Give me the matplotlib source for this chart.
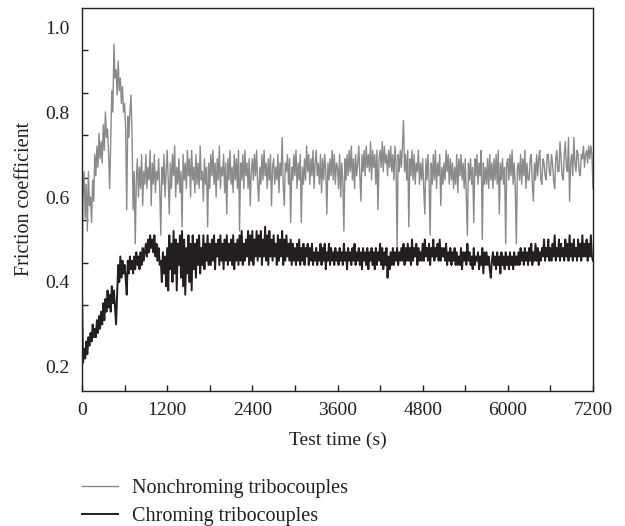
import numpy as np
import matplotlib
matplotlib.use("Agg")
import matplotlib.pyplot as plt

# Friction coefficient, one value every 15 s (0 ... 7200 s)
step = 15
nonchroming = [
    0.42, 0.60, 0.66, 0.55, 0.63, 0.52, 0.66, 0.58, 0.60, 0.54, 0.64, 0.59, 0.70, 0.65, 0.72, 0.67, 0.75, 0.69, 0.73, 0.68,
    0.77, 0.71, 0.80, 0.74, 0.76, 0.70, 0.62, 0.74, 0.85, 0.80, 0.96, 0.88, 0.90, 0.84, 0.92, 0.85, 0.88, 0.82, 0.86, 0.80,
    0.82, 0.76, 0.57, 0.79, 0.74, 0.80, 0.84, 0.75, 0.57, 0.66, 0.49, 0.64, 0.69, 0.60, 0.67, 0.62, 0.70, 0.58, 0.66, 0.63,
    0.70, 0.62, 0.67, 0.64, 0.71, 0.58, 0.68, 0.63, 0.70, 0.61, 0.66, 0.64, 0.69, 0.62, 0.51, 0.67, 0.63, 0.70, 0.60, 0.66,
    0.71, 0.64, 0.56, 0.68, 0.62, 0.70, 0.65, 0.72, 0.60, 0.67, 0.63, 0.69, 0.61, 0.66, 0.53, 0.70, 0.64, 0.68, 0.62, 0.71,
    0.65, 0.69, 0.60, 0.71, 0.64, 0.67, 0.61, 0.70, 0.63, 0.68, 0.62, 0.72, 0.64, 0.66, 0.59, 0.69, 0.63, 0.67, 0.53, 0.68,
    0.62, 0.70, 0.65, 0.71, 0.63, 0.68, 0.60, 0.69, 0.64, 0.72, 0.62, 0.67, 0.65, 0.70, 0.61, 0.68, 0.56, 0.69, 0.64, 0.71,
    0.63, 0.67, 0.61, 0.70, 0.64, 0.69, 0.62, 0.71, 0.52, 0.68, 0.64, 0.70, 0.62, 0.71, 0.65, 0.68, 0.62, 0.69, 0.58, 0.66,
    0.69, 0.64, 0.70, 0.65, 0.71, 0.63, 0.59, 0.67, 0.63, 0.70, 0.64, 0.71, 0.65, 0.68, 0.62, 0.69, 0.64, 0.70, 0.58, 0.67,
    0.69, 0.63, 0.67, 0.64, 0.70, 0.61, 0.68, 0.65, 0.74, 0.63, 0.58, 0.68, 0.66, 0.70, 0.63, 0.69, 0.54, 0.67, 0.64, 0.70,
    0.65, 0.71, 0.62, 0.68, 0.64, 0.70, 0.54, 0.67, 0.63, 0.69, 0.64, 0.72, 0.66, 0.70, 0.63, 0.69, 0.65, 0.71, 0.62, 0.68,
    0.71, 0.65, 0.68, 0.63, 0.70, 0.61, 0.69, 0.64, 0.70, 0.66, 0.56, 0.68, 0.64, 0.69, 0.65, 0.71, 0.64, 0.70, 0.63, 0.68,
    0.67, 0.62, 0.70, 0.60, 0.68, 0.64, 0.52, 0.69, 0.64, 0.70, 0.65, 0.71, 0.66, 0.72, 0.64, 0.69, 0.62, 0.70, 0.65, 0.68,
    0.72, 0.65, 0.59, 0.70, 0.66, 0.71, 0.65, 0.72, 0.67, 0.70, 0.66, 0.73, 0.64, 0.71, 0.67, 0.70, 0.63, 0.71, 0.57, 0.69,
    0.71, 0.67, 0.73, 0.66, 0.72, 0.68, 0.70, 0.65, 0.71, 0.67, 0.72, 0.66, 0.70, 0.64, 0.72, 0.68, 0.48, 0.70, 0.66, 0.71,
    0.67, 0.72, 0.78, 0.66, 0.70, 0.64, 0.71, 0.53, 0.69, 0.65, 0.71, 0.64, 0.70, 0.63, 0.68, 0.66, 0.71, 0.63, 0.68, 0.64,
    0.69, 0.62, 0.56, 0.69, 0.64, 0.70, 0.64, 0.51, 0.68, 0.63, 0.70, 0.64, 0.71, 0.62, 0.68, 0.65, 0.70, 0.58, 0.67, 0.63,
    0.68, 0.64, 0.71, 0.66, 0.70, 0.63, 0.69, 0.64, 0.68, 0.62, 0.67, 0.63, 0.70, 0.61, 0.69, 0.65, 0.70, 0.64, 0.68, 0.62,
    0.69, 0.60, 0.51, 0.68, 0.64, 0.69, 0.63, 0.67, 0.54, 0.69, 0.65, 0.70, 0.63, 0.68, 0.65, 0.71, 0.50, 0.68, 0.63, 0.67,
    0.63, 0.69, 0.62, 0.70, 0.64, 0.68, 0.62, 0.69, 0.64, 0.70, 0.63, 0.71, 0.56, 0.68, 0.64, 0.69, 0.63, 0.67, 0.49, 0.68,
    0.69, 0.64, 0.70, 0.65, 0.71, 0.63, 0.68, 0.62, 0.49, 0.67, 0.68, 0.64, 0.70, 0.63, 0.69, 0.65, 0.71, 0.62, 0.68, 0.64,
    0.64, 0.69, 0.70, 0.63, 0.59, 0.68, 0.64, 0.70, 0.65, 0.69, 0.71, 0.64, 0.63, 0.69, 0.68, 0.65, 0.64, 0.70, 0.70, 0.66,
    0.65, 0.70, 0.68, 0.64, 0.62, 0.69, 0.71, 0.66, 0.66, 0.73, 0.69, 0.65, 0.64, 0.70, 0.73, 0.67, 0.66, 0.74, 0.59, 0.68,
    0.70, 0.65, 0.74, 0.68, 0.66, 0.71, 0.70, 0.66, 0.65, 0.70, 0.69, 0.72, 0.67, 0.70, 0.71, 0.68, 0.72, 0.69, 0.72, 0.70,
    0.62,
]
chroming = [
    0.37, 0.21, 0.24, 0.22, 0.26, 0.23, 0.27, 0.25, 0.28, 0.26, 0.30, 0.27, 0.29, 0.27, 0.31, 0.28, 0.32, 0.29, 0.33, 0.30,
    0.35, 0.31, 0.36, 0.33, 0.38, 0.34, 0.37, 0.33, 0.39, 0.35, 0.38, 0.34, 0.30, 0.37, 0.44, 0.40, 0.46, 0.41, 0.45, 0.42,
    0.44, 0.41, 0.37, 0.45, 0.42, 0.46, 0.43, 0.45, 0.42, 0.46, 0.43, 0.47, 0.44, 0.46, 0.43, 0.47, 0.44, 0.48, 0.45, 0.47,
    0.49, 0.46, 0.50, 0.47, 0.51, 0.48, 0.50, 0.47, 0.51, 0.46, 0.49, 0.45, 0.48, 0.44, 0.45, 0.40, 0.47, 0.42, 0.46, 0.39,
    0.48, 0.38, 0.51, 0.43, 0.49, 0.40, 0.52, 0.42, 0.50, 0.38, 0.49, 0.44, 0.51, 0.41, 0.52, 0.39, 0.50, 0.37, 0.48, 0.42,
    0.51, 0.40, 0.49, 0.38, 0.51, 0.43, 0.49, 0.41, 0.50, 0.44, 0.51, 0.42, 0.48, 0.44, 0.51, 0.43, 0.49, 0.45, 0.51, 0.44,
    0.49, 0.44, 0.50, 0.45, 0.51, 0.43, 0.49, 0.46, 0.50, 0.44, 0.51, 0.45, 0.49, 0.43, 0.50, 0.45, 0.51, 0.44, 0.49, 0.45,
    0.50, 0.44, 0.51, 0.43, 0.49, 0.45, 0.50, 0.44, 0.51, 0.45, 0.52, 0.44, 0.49, 0.45, 0.50, 0.46, 0.52, 0.44, 0.51, 0.45,
    0.52, 0.44, 0.50, 0.46, 0.52, 0.45, 0.51, 0.46, 0.52, 0.44, 0.50, 0.46, 0.53, 0.45, 0.51, 0.44, 0.52, 0.46, 0.50, 0.45,
    0.51, 0.46, 0.49, 0.44, 0.51, 0.45, 0.50, 0.46, 0.52, 0.44, 0.50, 0.45, 0.51, 0.46, 0.49, 0.45, 0.50, 0.44, 0.49, 0.45,
    0.48, 0.44, 0.49, 0.45, 0.50, 0.44, 0.48, 0.45, 0.49, 0.44, 0.48, 0.46, 0.49, 0.44, 0.48, 0.45, 0.49, 0.44, 0.47, 0.45,
    0.48, 0.44, 0.47, 0.45, 0.49, 0.44, 0.48, 0.45, 0.49, 0.43, 0.47, 0.45, 0.49, 0.44, 0.48, 0.45, 0.47, 0.44, 0.48, 0.45,
    0.47, 0.44, 0.48, 0.45, 0.47, 0.44, 0.49, 0.45, 0.47, 0.43, 0.48, 0.45, 0.47, 0.44, 0.48, 0.45, 0.49, 0.44, 0.47, 0.45,
    0.48, 0.44, 0.47, 0.43, 0.48, 0.45, 0.47, 0.44, 0.48, 0.43, 0.47, 0.45, 0.48, 0.44, 0.47, 0.43, 0.48, 0.44, 0.47, 0.45,
    0.49, 0.44, 0.48, 0.43, 0.47, 0.44, 0.48, 0.41, 0.46, 0.43, 0.47, 0.44, 0.48, 0.44, 0.47, 0.45, 0.48, 0.44, 0.47, 0.45,
    0.48, 0.45, 0.49, 0.44, 0.48, 0.45, 0.49, 0.45, 0.48, 0.44, 0.50, 0.45, 0.48, 0.46, 0.49, 0.44, 0.48, 0.45, 0.47, 0.45,
    0.49, 0.45, 0.50, 0.46, 0.48, 0.45, 0.49, 0.44, 0.48, 0.46, 0.50, 0.45, 0.48, 0.46, 0.49, 0.45, 0.50, 0.45, 0.48, 0.46,
    0.48, 0.45, 0.49, 0.44, 0.47, 0.45, 0.48, 0.44, 0.47, 0.45, 0.48, 0.44, 0.47, 0.44, 0.46, 0.44, 0.48, 0.43, 0.47, 0.45,
    0.47, 0.44, 0.49, 0.45, 0.47, 0.44, 0.46, 0.43, 0.48, 0.44, 0.46, 0.45, 0.47, 0.43, 0.46, 0.44, 0.48, 0.42, 0.47, 0.44,
    0.47, 0.44, 0.46, 0.43, 0.41, 0.45, 0.47, 0.44, 0.46, 0.43, 0.47, 0.44, 0.46, 0.42, 0.47, 0.44, 0.46, 0.43, 0.47, 0.44,
    0.46, 0.43, 0.47, 0.44, 0.46, 0.43, 0.47, 0.44, 0.46, 0.44, 0.47, 0.44, 0.48, 0.45, 0.47, 0.44, 0.48, 0.45, 0.47, 0.44,
    0.48, 0.45, 0.49, 0.44, 0.47, 0.45, 0.49, 0.45, 0.48, 0.44, 0.47, 0.45, 0.48, 0.46, 0.50, 0.45, 0.48, 0.46, 0.50, 0.45,
    0.48, 0.45, 0.49, 0.46, 0.51, 0.45, 0.48, 0.46, 0.50, 0.45, 0.49, 0.46, 0.48, 0.45, 0.50, 0.46, 0.49, 0.45, 0.51, 0.46,
    0.49, 0.45, 0.50, 0.46, 0.48, 0.45, 0.50, 0.46, 0.49, 0.45, 0.51, 0.46, 0.49, 0.46, 0.50, 0.45, 0.49, 0.46, 0.51, 0.46,
    0.45,
]
x_ticks = [0, 1200, 2400, 3600, 4800, 6000, 7200]
y_ticks = [0.2, 0.4, 0.6, 0.8, 1.0]

GRAY = '#8a8a8a'
BLACK = '#231f20'

plt.rcParams['font.family'] = ['Liberation Serif', 'DejaVu Serif']
plt.rcParams['font.size'] = 14

time_nc = np.arange(len(nonchroming)) * step
time_c = np.arange(len(chroming)) * step

fig = plt.figure(figsize=(6.25, 5.26), dpi=100)
ax = fig.add_axes([0.1312, 0.2567, 0.8176, 0.729])

ax.plot(time_nc, nonchroming, color=GRAY, lw=1.0, label='Nonchroming tribocouples')
ax.plot(time_c, chroming, color=BLACK, lw=1.4, label='Chroming tribocouples')

ax.set_xlim(0, 7200)
ax.set_ylim(0.1435, 1.046)

ax.set_xticks(x_ticks)
ax.set_xticks(np.arange(600, 7200, 1200), minor=True)
ax.set_yticks(y_ticks)
# tick marks in the original sit between the labels
ax.set_yticks(np.arange(0.245, 1.0, 0.1), minor=True)
ax.tick_params(axis='x', which='both', direction='in', length=4, width=1,
               color=BLACK, pad=8)
ax.tick_params(axis='y', which='major', length=0, pad=9)
ax.tick_params(axis='y', which='minor', direction='in', length=4, width=1,
               color=BLACK)
ax.tick_params(labelcolor=BLACK)
for s in ax.spines.values():
    s.set_color(BLACK)
    s.set_linewidth(1)

ax.set_xlabel('Test time (s)', color=BLACK, labelpad=9)
ax.set_ylabel('Friction coefficient', color=BLACK, fontsize=14.5, labelpad=8)

fig.legend(loc='upper left', bbox_to_anchor=(0.131, 0.089), frameon=False,
           borderpad=0, borderaxespad=0, fontsize=14.5,
           handlelength=1.8, handletextpad=0.7, labelspacing=0.45,
           labelcolor=BLACK)

fig.savefig('out.png', dpi=100)
